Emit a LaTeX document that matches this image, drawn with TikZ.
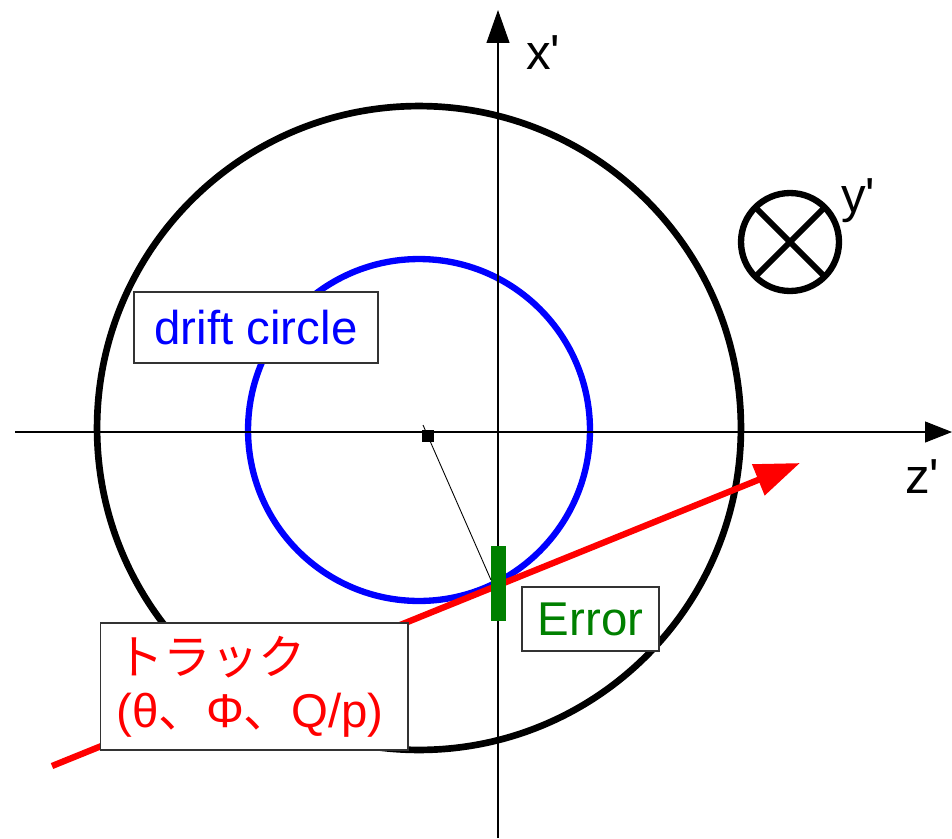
\documentclass[tikz,border=0pt]{standalone}
\usepackage{fontspec}
\setmainfont{Liberation Sans}
\newfontfamily\cjk{Noto Sans CJK JP}
\usetikzlibrary{arrows.meta}
\definecolor{errgreen}{RGB}{0,128,0}
\newcommand{\prima}{\XeTeXglyph\XeTeXcharglyph"27\relax}

\begin{document}
\begin{tikzpicture}[x=0.02cm, y=-0.02cm,
  caja/.style={draw=black!80, line width=0.6pt, fill=white, inner sep=0pt,
    font=\fontsize{27}{30}\selectfont},
  eje/.style={line width=0.6pt},
  etiqueta/.style={anchor=base west, inner sep=0pt,
    font=\fontsize{28}{32}\selectfont}]

\useasboundingbox (0,0) rectangle (952,838);

% ── Círculos: cámara y drift circle ──────────────────────────
\draw[line width=3.8pt] (419,428) circle[radius=6.44cm];
\draw[blue, line width=3.6pt] (419,430) circle[radius=3.42cm];

% ── Ejes z' y x' ─────────────────────────────────────────────
\coordinate (zIni) at (15,432);
\coordinate (zFin) at (952,432);
\draw[eje, -{Triangle[length=0.54cm, width=0.42cm]}] (zIni) -- (zFin);
\coordinate (xIni) at (498,838);
\coordinate (xFin) at (498,10);
\draw[eje, -{Triangle[length=0.66cm, width=0.46cm]}] (xIni) -- (xFin);
\node[etiqueta] (xlab) at (526,70) {x\prima};
\node[etiqueta] (zlab) at (905,493) {z\prima};

% ── Traza ────────────────────────────────────────────────────
\coordinate (trkA) at (52,766);
\coordinate (trkB) at (800,463);
\draw[red, line width=3.6pt, -{Triangle[length=0.9cm, width=0.64cm]}]
    (trkA) -- (trkB);

% ── Error y distancia al hilo ────────────────────────────────
\node[fill=errgreen, minimum width=0.3cm, minimum height=1.5cm,
    inner sep=0pt] (barra) at (498.5,583.5) {};
\node[fill, minimum size=0.24cm, inner sep=0pt] (hilo) at (428,436) {};
\coordinate (hiloTop) at (423,425);
\coordinate (poca) at (491,580);
\draw[line width=0.5pt] (hiloTop) -- (poca);

% ── Cajas de texto ───────────────────────────────────────────
\node[caja, text=blue, minimum width=4.88cm, minimum height=1.42cm]
    (deriva) at (256,327.5) {drift circle};
\node[caja, text=errgreen, minimum width=2.74cm, minimum height=1.28cm]
    (error) at (590.5,619) {Error};
\node[caja, text=red, align=left, text width=5.5cm, inner xsep=0.33cm,
    minimum height=2.54cm] (traza) at (254,686.5)
    {{\cjk トラック}\\(θ{\cjk 、}Φ{\cjk 、}Q/p)};

% ── Eje y' (entrante) ────────────────────────────────────────
\node[circle, draw, line width=3.6pt, minimum size=1.96cm, inner sep=0pt,
    outer sep=0pt] (yeje) at (790,242) {};
\draw[line width=3.4pt] (yeje.north west) -- (yeje.south east);
\draw[line width=3.4pt] (yeje.south west) -- (yeje.north east);
\node[etiqueta] (ylab) at (841,212) {y\prima};

\end{tikzpicture}
\end{document}
